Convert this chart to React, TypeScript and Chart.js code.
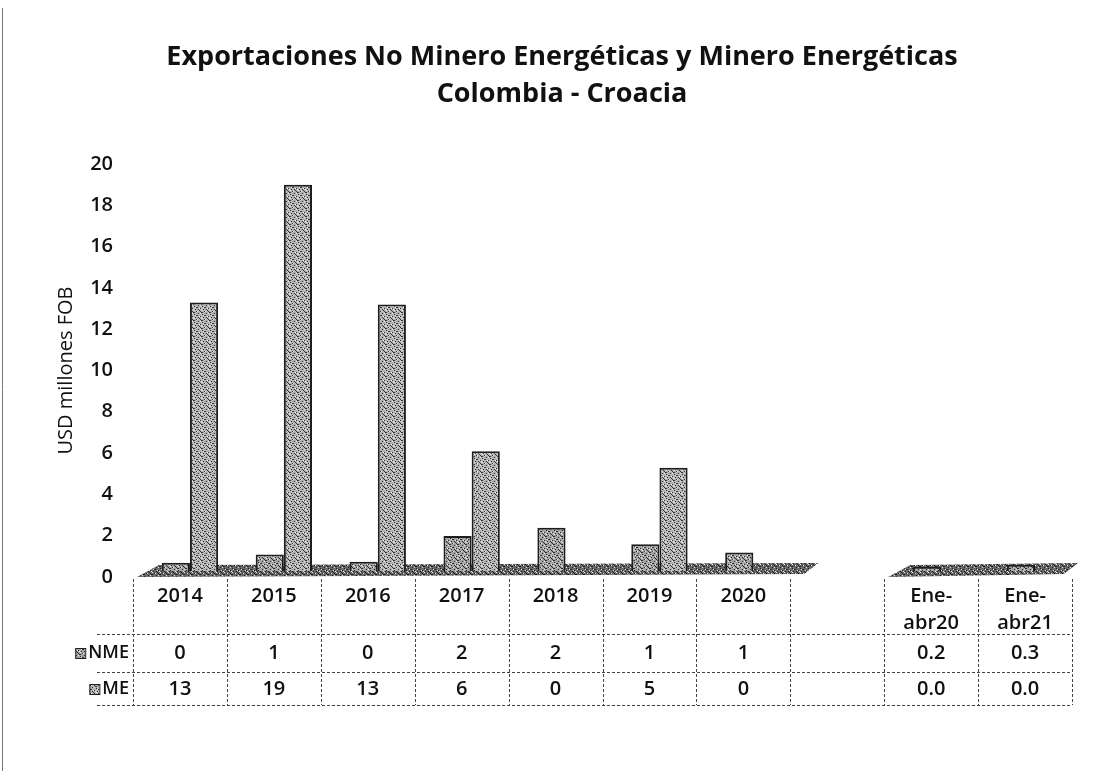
import React, { useEffect, useRef } from 'react';
import { Chart, registerables } from 'chart.js';

Chart.register(...registerables);

// ---- Data ----
const categories = ['2014', '2015', '2016', '2017', '2018', '2019', '2020', '', 'Ene-abr20', 'Ene-abr21'];
const headerLabels: string[][] = [
  ['2014'], ['2015'], ['2016'], ['2017'], ['2018'], ['2019'], ['2020'], [''],
  ['Ene-', 'abr20'], ['Ene-', 'abr21'],
];
const nmeValues: (number | null)[] = [0.4, 0.8, 0.45, 1.7, 2.1, 1.3, 0.9, null, 0.2, 0.3];
const meValues: (number | null)[] = [13.0, 18.7, 12.9, 5.8, 0, 5.0, 0, null, 0, 0];
const nmeTableText = ['0', '1', '0', '2', '2', '1', '1', '', '0.2', '0.3'];
const meTableText = ['13', '19', '13', '6', '0', '5', '0', '', '0.0', '0.0'];
const seriesNames = ['NME', 'ME'];
const titleLines = ['Exportaciones No Minero Energéticas y Minero Energéticas', 'Colombia - Croacia'];
const yAxisTitle = 'USD millones FOB';
const yMin = 0;
const yMax = 20;
const yStep = 2;

const FONT = '"Open Sans", "DejaVu Sans", sans-serif';
const DEPTH_X = 10;
const DEPTH_Y = 6;

function makePattern(base: string, dark: string): CanvasPattern | string {
  const c = document.createElement('canvas');
  c.width = 8;
  c.height = 8;
  const g = c.getContext('2d');
  if (!g) return base;
  g.fillStyle = base;
  g.fillRect(0, 0, 8, 8);
  g.fillStyle = dark;
  const dots = [[0, 0], [3, 1], [6, 2], [1, 3], [5, 4], [2, 5], [7, 6], [4, 7], [2, 1], [6, 5], [0, 6], [4, 3]];
  dots.forEach(([a, b]) => g.fillRect(a, b, 1, 1));
  g.fillStyle = '#e8e8e8';
  const lights = [[1, 1], [5, 2], [3, 5], [7, 3], [0, 4], [6, 7]];
  lights.forEach(([a, b]) => g.fillRect(a, b, 1, 1));
  const p = g.createPattern(c, 'repeat');
  return p || base;
}

export default function App() {
  const ref = useRef<HTMLCanvasElement | null>(null);

  useEffect(() => {
    const canvas = ref.current;
    if (!canvas) return;
    const nmeFill = makePattern('#a4a4a4', '#2e2e2e');
    const meFill = makePattern('#b4b4b4', '#333333');
    const floorFill = makePattern('#6a6a6a', '#1e1e1e');

    const floorPlugin = {
      id: 'floor3d',
      beforeDatasetsDraw(chart: any) {
        const { ctx, scales } = chart;
        const x = scales.x;
        const y = scales.y;
        const n = categories.length;
        const colW = x.width / n;
        const y0 = y.getPixelForValue(0);
        const segments: [number, number][] = [];
        let start = -1;
        for (let i = 0; i <= n; i++) {
          const active = i < n && categories[i] !== '';
          if (active && start < 0) start = i;
          if (!active && start >= 0) {
            segments.push([start, i - 1]);
            start = -1;
          }
        }
        ctx.save();
        segments.forEach(([a, b], idx) => {
          const L = x.left + a * colW + 4;
          const R = x.left + (b + 1) * colW + (idx === 0 ? 28 : 6);
          ctx.beginPath();
          ctx.moveTo(L, y0);
          ctx.lineTo(L + 22, y0 - 12);
          ctx.lineTo(R, y0 - 14);
          ctx.lineTo(R - 14, y0 - 3);
          ctx.closePath();
          ctx.fillStyle = floorFill as any;
          ctx.fill();
        });
        ctx.restore();
        // 3D depth shift of the bar row
        ctx.save();
        ctx.translate(DEPTH_X, -DEPTH_Y);
      },
      afterDatasetsDraw(chart: any) {
        chart.ctx.restore();
      },
    };

    const tablePlugin = {
      id: 'dataTable',
      afterDraw(chart: any) {
        const { ctx, scales } = chart;
        const x = scales.x;
        const y = scales.y;
        const n = categories.length;
        const colW = x.width / n;
        const top = y.getPixelForValue(0);
        const headerBottom = top + 57;
        const row1Bottom = headerBottom + 38;
        const row2Bottom = row1Bottom + 33;
        const labelLeft = x.left - 36;

        ctx.save();
        ctx.strokeStyle = '#444';
        ctx.lineWidth = 1;
        ctx.setLineDash([3, 2]);
        for (let i = 0; i <= n; i++) {
          const xx = Math.round(x.left + i * colW) + 0.5;
          ctx.beginPath();
          ctx.moveTo(xx, top + 2);
          ctx.lineTo(xx, row2Bottom);
          ctx.stroke();
        }
        [headerBottom, row1Bottom, row2Bottom].forEach((yy) => {
          ctx.beginPath();
          ctx.moveTo(labelLeft, Math.round(yy) + 0.5);
          ctx.lineTo(x.right, Math.round(yy) + 0.5);
          ctx.stroke();
        });
        ctx.setLineDash([]);

        ctx.fillStyle = '#111';
        ctx.textAlign = 'center';
        ctx.textBaseline = 'middle';
        ctx.font = `600 20px ${FONT}`;
        headerLabels.forEach((lines, i) => {
          const cx = x.getPixelForValue(i);
          lines.forEach((t, k) => ctx.fillText(t, cx, top + 19 + k * 27));
        });
        nmeTableText.forEach((t, i) => ctx.fillText(t, x.getPixelForValue(i), headerBottom + 19));
        meTableText.forEach((t, i) => ctx.fillText(t, x.getPixelForValue(i), row1Bottom + 17));

        const rowYs = [headerBottom + 19, row1Bottom + 17];
        const fills = [nmeFill, meFill];
        ctx.font = `600 18px ${FONT}`;
        ctx.textAlign = 'right';
        seriesNames.forEach((name, k) => {
          const tx = x.left - 4;
          ctx.fillStyle = '#111';
          ctx.fillText(name, tx, rowYs[k]);
          const w = ctx.measureText(name).width;
          ctx.fillStyle = fills[k] as any;
          ctx.fillRect(tx - w - 13, rowYs[k] - 5, 10, 10);
          ctx.strokeStyle = '#222';
          ctx.strokeRect(tx - w - 13 + 0.5, rowYs[k] - 5 + 0.5, 10, 10);
        });

        ctx.strokeStyle = '#777';
        ctx.beginPath();
        ctx.moveTo(2.5, 8);
        ctx.lineTo(2.5, chart.height);
        ctx.stroke();
        ctx.restore();
      },
    };

    const chart = new Chart(canvas, {
      type: 'bar',
      data: {
        labels: categories,
        datasets: [
          {
            label: seriesNames[0],
            data: nmeValues as any,
            backgroundColor: nmeFill as any,
            borderColor: '#1e1e1e',
            borderWidth: 2,
          },
          {
            label: seriesNames[1],
            data: meValues as any,
            backgroundColor: meFill as any,
            borderColor: '#1e1e1e',
            borderWidth: 2,
          },
        ],
      },
      options: {
        animation: false,
        responsive: false,
        layout: { padding: { left: 52, right: 35, top: 0, bottom: 194 } },
        datasets: { bar: { categoryPercentage: 0.6, barPercentage: 1.0 } },
        plugins: {
          legend: { display: false },
          tooltip: { enabled: false },
          title: {
            display: true,
            text: titleLines,
            color: '#111',
            font: { family: FONT, size: 27, weight: 'bold', lineHeight: 1.37 },
            padding: { top: 39, bottom: 51 },
          },
        },
        scales: {
          x: {
            display: false,
          },
          y: {
            min: yMin,
            max: yMax,
            border: { display: false },
            grid: { display: false, drawTicks: false },
            ticks: {
              stepSize: yStep,
              padding: 20,
              color: '#111',
              font: { family: FONT, size: 20, weight: '600' },
            },
            title: {
              display: true,
              text: yAxisTitle,
              color: '#111',
              font: { family: FONT, size: 20 },
              padding: { top: 2, bottom: 0 },
            },
            afterFit(scale: any) {
              scale.width = 81;
            },
          },
        },
      },
      plugins: [floorPlugin, tablePlugin],
    });
    return () => chart.destroy();
  }, []);

  return (
    <div style={{ position: 'fixed', left: 0, top: 0, width: 1107, height: 771, background: '#fff' }}>
      <canvas ref={ref} width={1107} height={771} />
    </div>
  );
}
